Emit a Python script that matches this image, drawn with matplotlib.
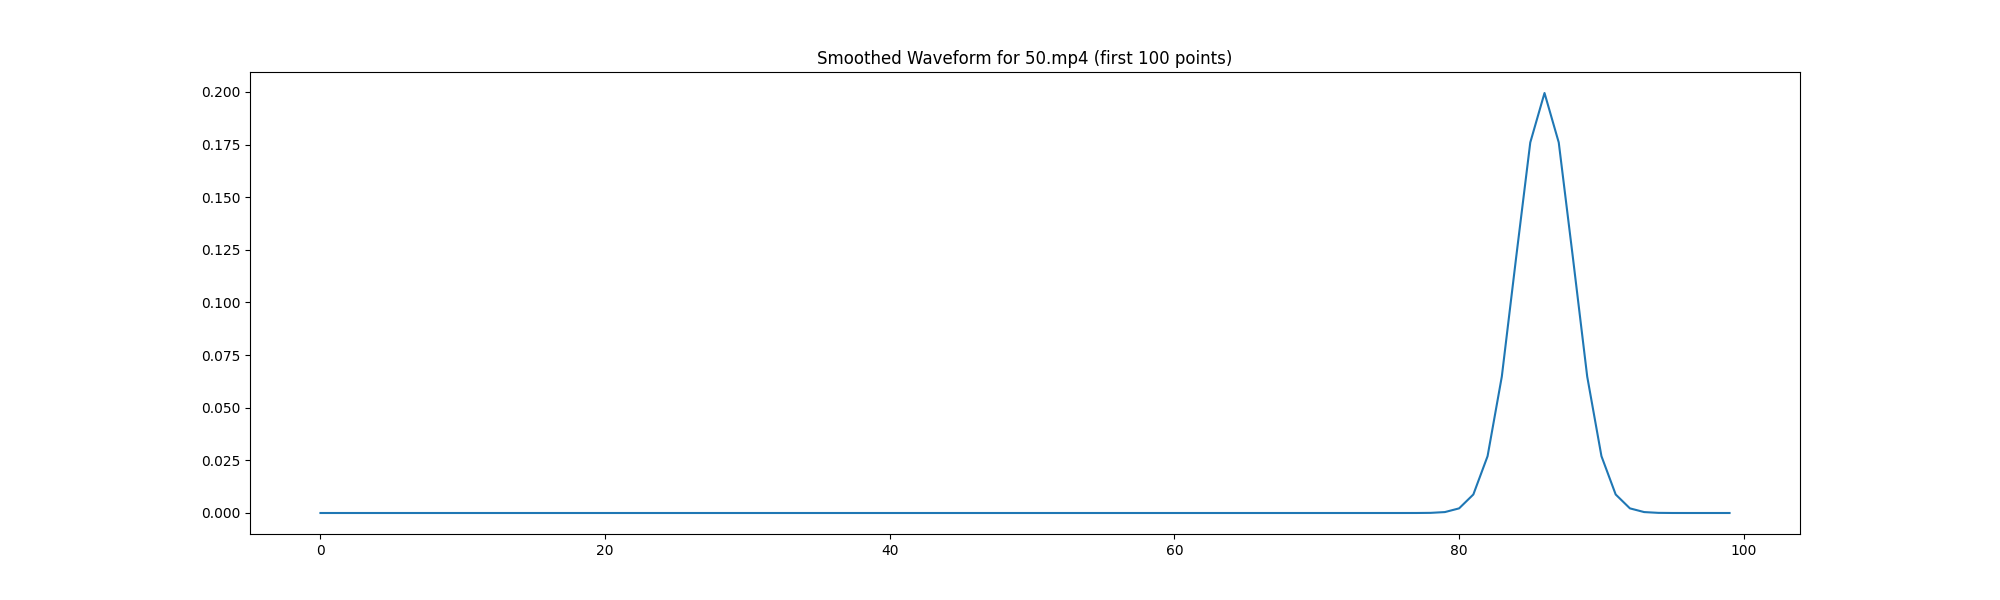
import matplotlib
matplotlib.use("Agg")
import matplotlib.pyplot as plt
import numpy as np

# smoothed waveform values, first 100 samples (zero except around the peak)
peak_idx = [77, 78, 79, 80, 81, 82, 83, 84, 85, 86, 87, 88, 89, 90, 91, 92, 93, 94, 95]
peak_val = [0.000006, 0.000067, 0.00044, 0.0022, 0.0088, 0.027, 0.0648, 0.121, 0.176, 0.1995,
            0.176, 0.121, 0.0648, 0.027, 0.0088, 0.0022, 0.00044, 0.000067, 0.000006]

wave = np.zeros(100)
wave[peak_idx] = peak_val

plt.figure(figsize=(20, 6), dpi=100)
plt.plot(wave)
plt.title("Smoothed Waveform for 50.mp4 (first 100 points)")
plt.savefig("out.png")
